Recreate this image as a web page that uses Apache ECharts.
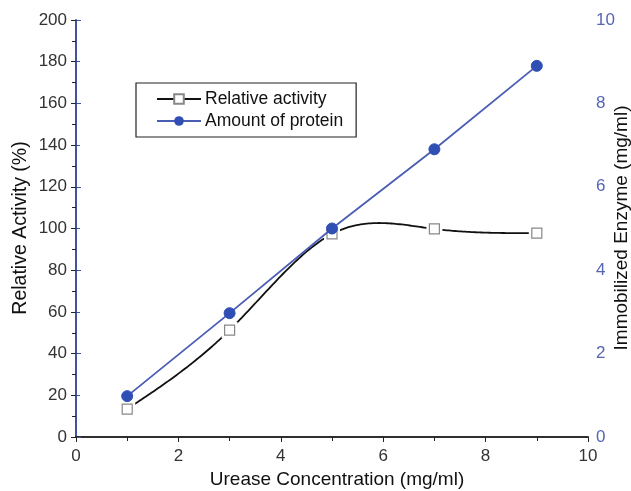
<!DOCTYPE html>
<html>
<head>
<meta charset="utf-8">
<script src="https://cdn.jsdelivr.net/npm/echarts@6/dist/echarts.min.js"></script>
<style>html,body{margin:0;padding:0;background:#fff}#c{width:631px;height:491px}</style>
</head>
<body>
<div id="c"></div>
<script>
const concentration = [1, 3, 5, 7, 9];
const relativeActivity = [13.4, 51.3, 97.4, 99.8, 97.8];
const proteinAmount = [0.98, 2.97, 5.0, 6.9, 8.9];
const xTicks = [0, 2, 4, 6, 8, 10];

// natural cubic spline through the measured points (for the smoothed curve)
function naturalSpline(xs, ys) {
  const n = xs.length, h = [], a = [], l = [1], mu = [0], z = [0], c = new Array(n).fill(0);
  for (let i = 0; i < n - 1; i++) h.push(xs[i + 1] - xs[i]);
  for (let i = 1; i < n - 1; i++) a[i] = 3 / h[i] * (ys[i + 1] - ys[i]) - 3 / h[i - 1] * (ys[i] - ys[i - 1]);
  for (let i = 1; i < n - 1; i++) {
    l[i] = 2 * (xs[i + 1] - xs[i - 1]) - h[i - 1] * mu[i - 1];
    mu[i] = h[i] / l[i];
    z[i] = (a[i] - h[i - 1] * z[i - 1]) / l[i];
  }
  const b = [], d = [];
  for (let j = n - 2; j >= 0; j--) {
    c[j] = (j === 0 ? 0 : z[j] - mu[j] * c[j + 1]);
    b[j] = (ys[j + 1] - ys[j]) / h[j] - h[j] * (c[j + 1] + 2 * c[j]) / 3;
    d[j] = (c[j + 1] - c[j]) / (3 * h[j]);
  }
  return function (x) {
    let j = 0;
    while (j < n - 2 && x > xs[j + 1]) j++;
    const t = x - xs[j];
    return ys[j] + b[j] * t + c[j] * t * t + d[j] * t * t * t;
  };
}
const spline = naturalSpline(concentration, relativeActivity);

const chart = echarts.init(document.getElementById('c'), null, {renderer: 'canvas'});
const font = 'Liberation Sans, Arial, sans-serif';
const blue = '#3a52b0';
chart.setOption({
  animation: false,
  backgroundColor: '#fff',
  textStyle: {fontFamily: font},
  grid: {left: 76, right: 43, top: 20, bottom: 54, containLabel: false, outerBoundsMode: 'none'},
  graphic: [{
    type: 'text', x: 21, y: 228, rotation: Math.PI / 2,
    style: {text: 'Relative Activity (%)', fontSize: 19.5, fontFamily: font, fill: '#111', align: 'center', verticalAlign: 'middle'}
  }, {
    type: 'text', x: 622, y: 228, rotation: Math.PI / 2,
    style: {text: 'Immobilized Enzyme (mg/ml)', fontSize: 19, fontFamily: font, fill: '#111', align: 'center', verticalAlign: 'middle'}
  }],
  legend: {
    orient: 'vertical', left: 136, top: 83,
    padding: [7, 13, 7, 20],
    itemGap: 4, itemWidth: 44, itemHeight: 12,
    borderColor: '#222', borderWidth: 1.2,
    textStyle: {fontFamily: font, fontSize: 17.5, color: '#111', padding: [0, 0, 0, -1]},
    data: [
      {name: 'Relative activity', lineStyle: {color: '#111', width: 1.8, opacity: 1}},
      {name: 'Amount of protein'}
    ]
  },
  xAxis: [{
    type: 'value', min: 0, max: 10, interval: 2,
    name: 'Urease Concentration (mg/ml)', nameLocation: 'middle', nameGap: 31,
    nameTextStyle: {fontSize: 19, color: '#111', fontFamily: font, padding: [0, 0, 0, 10]},
    axisLine: {lineStyle: {color: '#222', width: 1.5}},
    axisTick: {show: true, length: 5, lineStyle: {color: '#222'}},
    minorTick: {show: true, splitNumber: 2, length: 4, lineStyle: {color: '#222'}},
    axisLabel: {fontSize: 17, color: '#333', margin: 11, fontFamily: font},
    splitLine: {show: false}
  }, {
    type: 'value', position: 'top', min: 0, max: 10,
    axisLine: {lineStyle: {color: '#222', width: 1.5}},
    axisTick: {show: false}, axisLabel: {show: false}, splitLine: {show: false}
  }],
  yAxis: [{
    type: 'value', min: 0, max: 200, interval: 20,
    axisLine: {show: true, lineStyle: {color: '#222', width: 1.5}},
    axisTick: {show: true, length: 5, lineStyle: {color: '#222'}},
    minorTick: {show: true, splitNumber: 2, length: 4, lineStyle: {color: '#222'}},
    axisLabel: {fontSize: 17, color: '#333', margin: 9, fontFamily: font},
    splitLine: {show: false}
  }, {
    type: 'value', min: 0, max: 10, interval: 2, position: 'right',
    axisLine: {show: true, lineStyle: {color: blue, width: 1.5}},
    axisTick: {show: true, length: 5, lineStyle: {color: blue}},
    minorTick: {show: true, splitNumber: 2, length: 4, lineStyle: {color: blue}},
    axisLabel: {fontSize: 17, color: '#5565b5', margin: 8, fontFamily: font},
    splitLine: {show: false}
  }],
  series: [{
    type: 'custom', yAxisIndex: 0, silent: true, z: 1,
    data: [[concentration[0], relativeActivity[0]]],
    renderItem: function (params, api) {
      const pts = [];
      const x0 = concentration[0], x1 = concentration[concentration.length - 1];
      for (let k = 0; k <= 200; k++) {
        const x = x0 + (x1 - x0) * k / 200;
        pts.push(api.coord([x, spline(x)]));
      }
      return {type: 'polyline', shape: {points: pts}, style: {stroke: '#111', lineWidth: 1.8, fill: null}};
    }
  }, {
    type: 'scatter', yAxisIndex: 0, silent: true, z: 2,
    data: concentration.map((x, i) => [x, relativeActivity[i]]),
    symbol: 'rect', symbolSize: 16,
    itemStyle: {color: '#fff', opacity: 1}
  }, {
    name: 'Relative activity', type: 'line', yAxisIndex: 0,
    data: concentration.map((x, i) => [x, relativeActivity[i]]),
    symbol: 'rect', symbolSize: 10,
    itemStyle: {color: '#fff', borderColor: '#888', borderWidth: 1.2},
    lineStyle: {color: '#111', width: 1.8, opacity: 0},
    z: 3
  }, {
    name: 'Amount of protein', type: 'line', yAxisIndex: 1,
    data: concentration.map((x, i) => [x, proteinAmount[i]]),
    symbol: 'circle', symbolSize: 11,
    itemStyle: {color: '#2f4fb5', borderColor: '#2f4fb5'},
    lineStyle: {color: '#4a5db5', width: 1.8},
    z: 4
  }]
});
</script>
</body>
</html>
